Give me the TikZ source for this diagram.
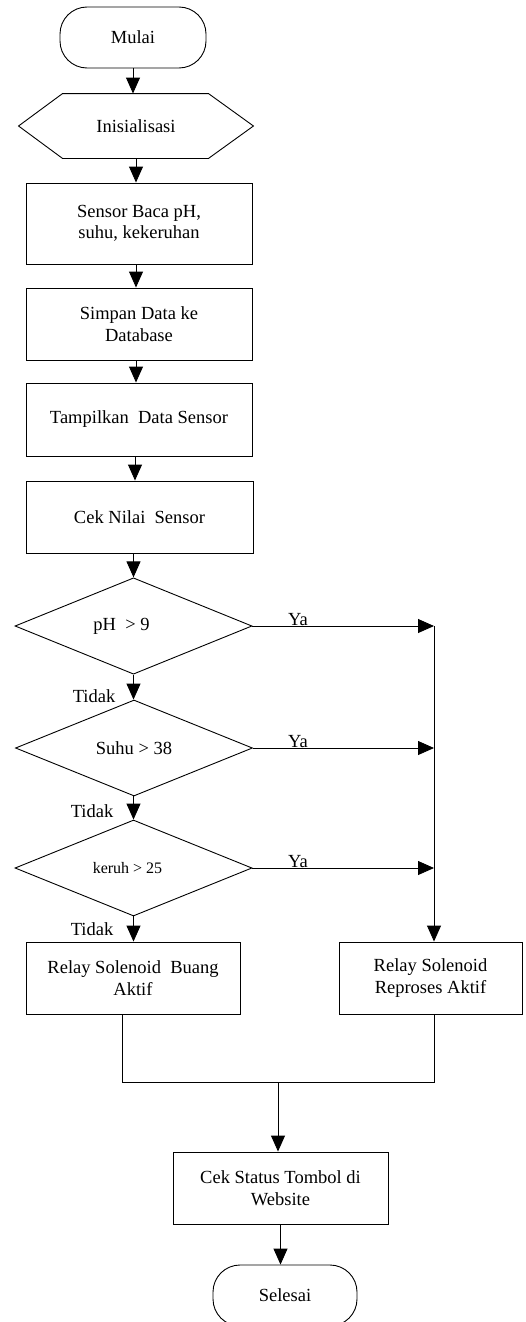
\documentclass[tikz,border=0pt]{standalone}
\usepackage{fontspec}
\setmainfont{Liberation Serif}
\usetikzlibrary{arrows.meta,shapes.geometric,calc}
\begin{document}
\begin{tikzpicture}[x=1pt,y=-1pt,
  font=\fontsize{18.5}{21.5}\selectfont,
  line width=0.9pt,
  >={Triangle[length=16pt,width=14pt]},
  term/.style={draw, rectangle, rounded corners=27pt, minimum width=146pt, minimum height=61pt, inner sep=0pt},
  box/.style={draw, rectangle, align=center, inner sep=0pt},
  dec/.style={draw, diamond, minimum width=237pt, minimum height=96pt, inner sep=0pt},
  lbl/.style={anchor=base, inner sep=0pt}]
\useasboundingbox (0,0) rectangle (526,1322);
\begin{scope}
\clip (0,0) rectangle (526,1322);
% nodes
\node[term] (mulai) at (133,37.5) {Mulai};
\node[minimum width=234pt, minimum height=64pt, inner sep=0pt] (ini) at (136,126) {Inisialisasi};
\draw (ini.west) -- ([xshift=44pt]ini.north west) -- ([xshift=-45pt]ini.north east) -- (ini.east)
      -- ([xshift=-45pt]ini.south east) -- ([xshift=44pt]ini.south west) -- cycle;
\node[box, minimum width=226pt, minimum height=81pt] (b1) at (139,223.5) {Sensor Baca pH,\\suhu, kekeruhan};
\node[box, minimum width=226pt, minimum height=72pt] (b2) at (139,324) {Simpan Data ke\\Database};
\node[box, minimum width=226pt, minimum height=73pt] (b3) at (139,419.5) {Tampilkan\ \ Data Sensor};
\node[box, minimum width=227pt, minimum height=72pt] (b4) at (139.5,517) {Cek Nilai\ \ Sensor};
\node[dec] (d1) at (133.5,626) {pH\ \ > 9\hspace*{24pt}};
\node[dec] (d2) at (134,748) {Suhu > 38};
\node[dec, font=\fontsize{16}{19}\selectfont] (d3) at (133.5,868) {keruh > 25\hspace*{12pt}};
\node[box, minimum width=214pt, minimum height=72pt] (buang) at (133,978) {Relay Solenoid\ \ Buang\\Aktif};
\node[box, minimum width=183pt, minimum height=72pt] (rep) at (430.5,978) {Relay Solenoid\\Reproses Aktif};
\node[box, minimum width=215pt, minimum height=72pt] (cek) at (280.5,1188) {Cek Status Tombol\ di\\Website};
\node[term, minimum width=144pt] (selesai) at (285,1295.5) {Selesai};
% labels
\node[lbl] (ya1) at (298,625) {Ya};
\node[lbl] (ya2) at (298,747) {Ya};
\node[lbl] (ya3) at (298,867) {Ya};
\node[lbl] (t1) at (94,702) {Tidak};
\node[lbl] (t2) at (92,817) {Tidak};
\node[lbl] (t3) at (92,935) {Tidak};
% coordinates
\coordinate (rtop) at (434,626);
\coordinate (bl) at (122,1082);
\coordinate (br) at (434,1082);
\coordinate (m) at (278,1082);
% connectors
\draw[->] (mulai.south) -- (mulai.south |- ini.north);
\draw[->] (ini.south) -- (ini.south |- b1.north);
\draw[->] (b1.south -| ini.south) -- (ini.south |- b2.north);
\draw[->] (b2.south -| 136,0) -- (136,0 |- b3.north);
\draw[->] (b3.south -| 135,0) -- (135,0 |- b4.north);
\draw[->] (d1.north |- b4.south) -- (d1.north);
\draw[->] (d1.south) -- (d2.north -| d1.south);
\draw[->] (d2.south -| d1.south) -- (d3.north);
\draw[->] (d3.south) -- (d3.south |- buang.north);
\draw[->] (d1.east) -- (rtop);
\draw[->] (d2.east) -- (d2.east -| rtop);
\draw[->] (d3.east) -- (d3.east -| rtop);
\draw[->] (rtop) -- (rtop |- rep.north);
\draw (buang.south -| bl) -- (bl) -- (br) -- (rep.south -| br);
\draw[->] (m) -- (m |- cek.north);
\draw[->] (cek.south) -- (cek.south |- selesai.north);
\end{scope}
\end{tikzpicture}
\end{document}
